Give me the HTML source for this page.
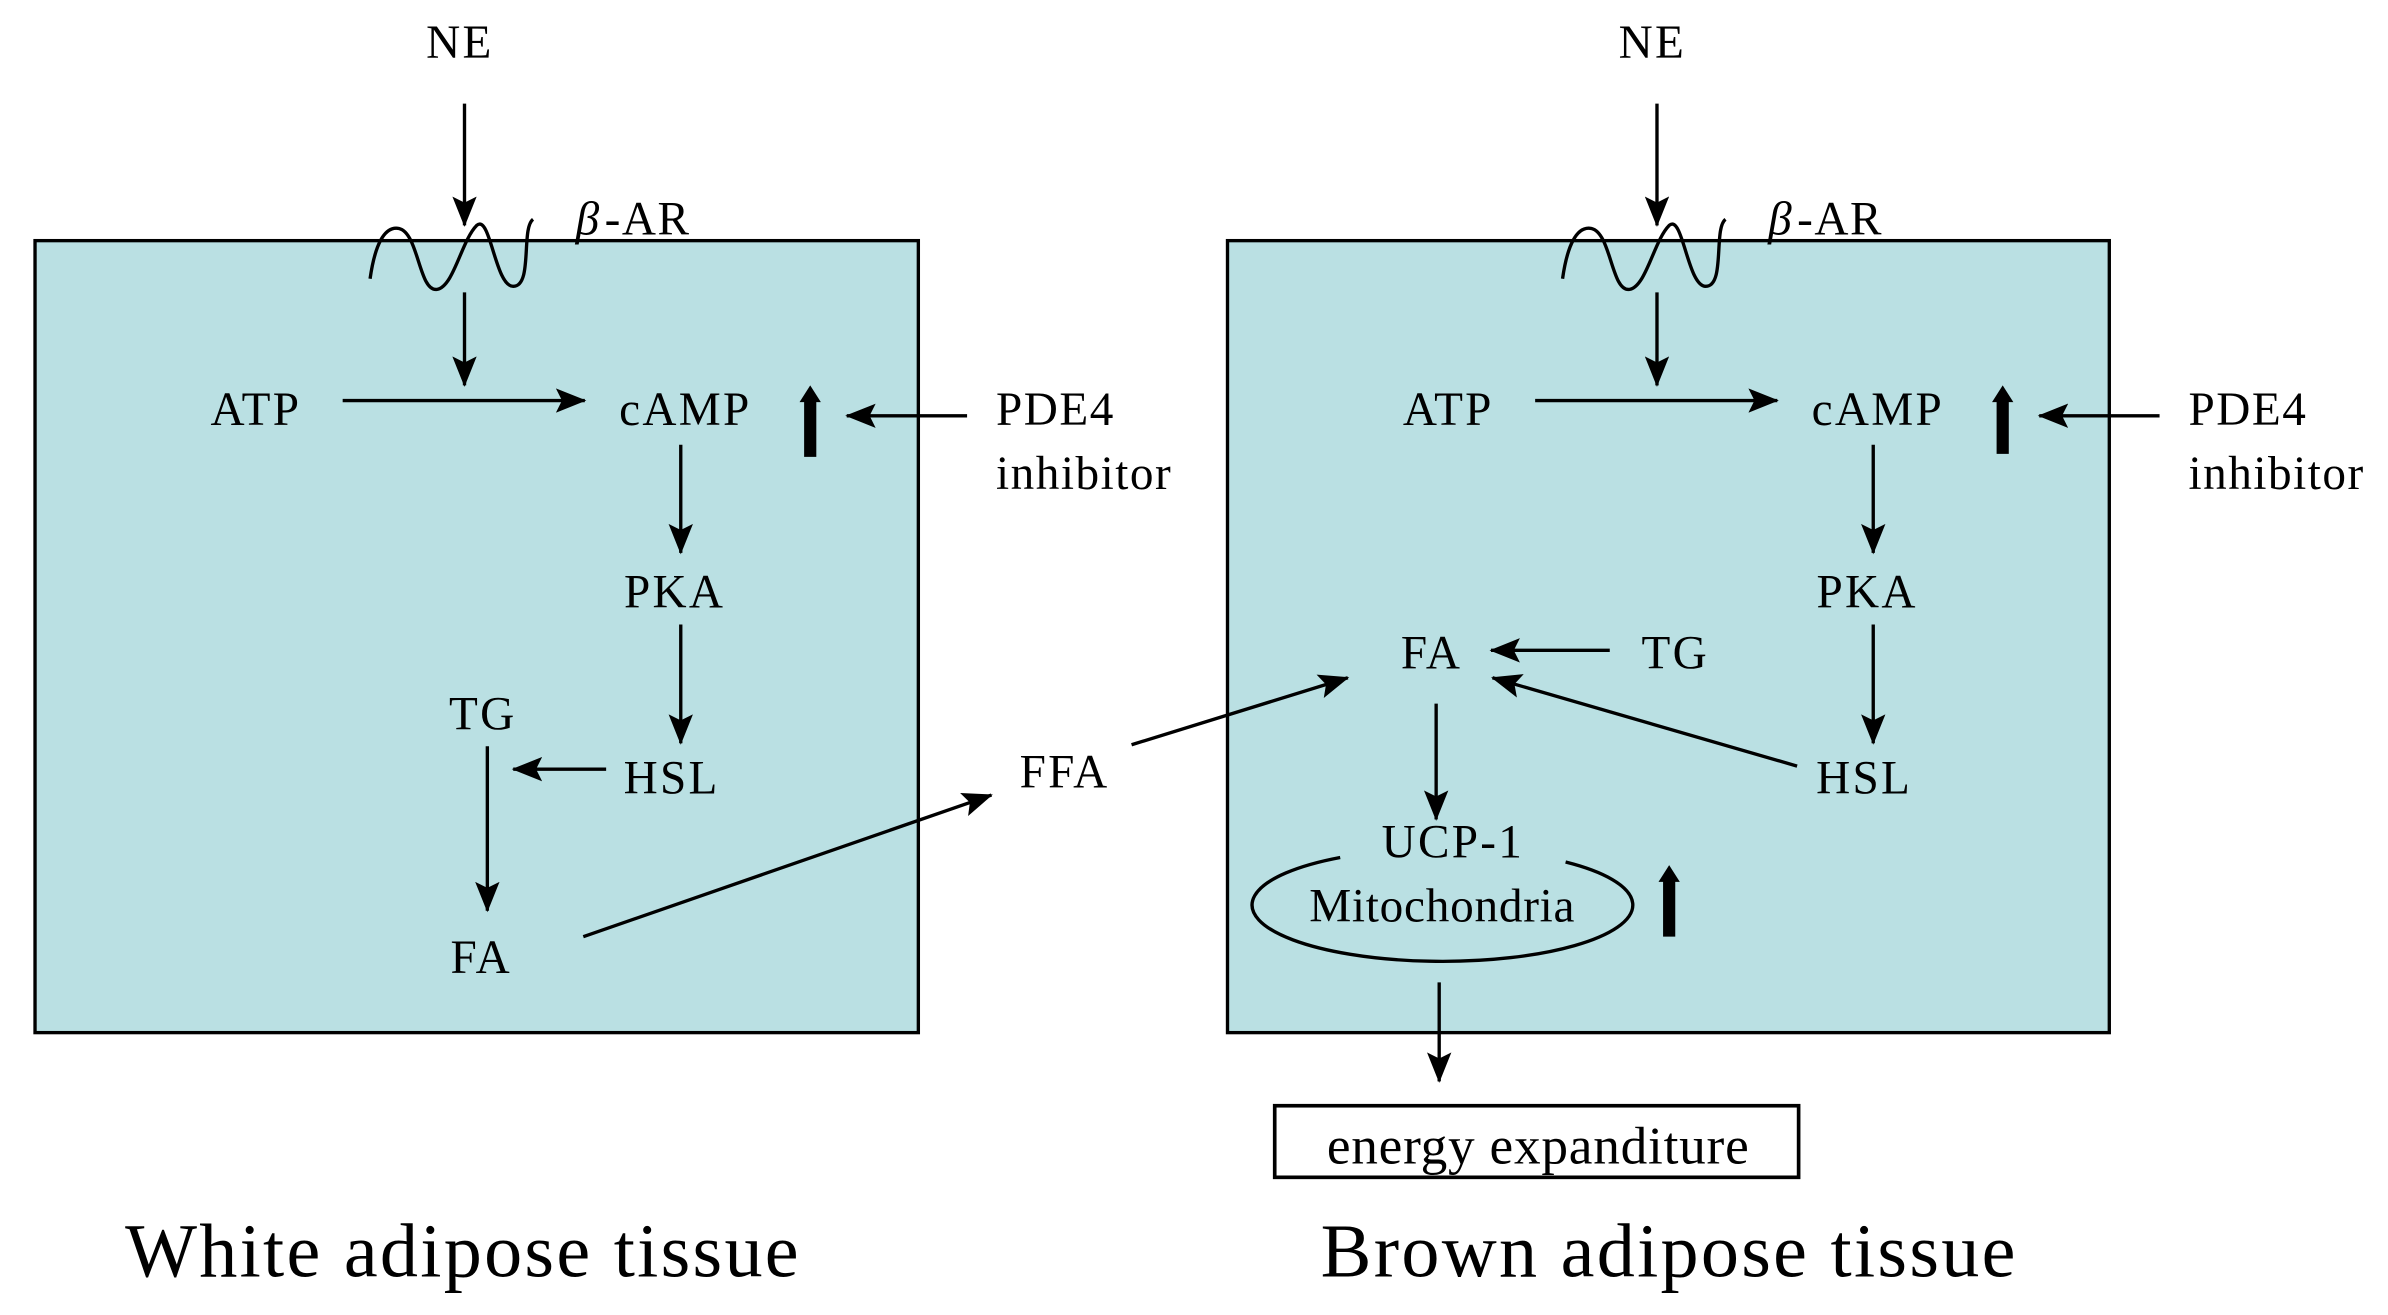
<!DOCTYPE html>
<html><head><meta charset="utf-8"><style>
html,body{margin:0;padding:0;background:#fff;}
svg{display:block;}
text{font-family:"Liberation Serif",serif;fill:#000;}
</style></head><body>
<svg width="2388" height="1315" viewBox="0 0 1568 863.4" preserveAspectRatio="none" xmlns="http://www.w3.org/2000/svg">
<defs>
<marker id="b" markerWidth="20" markerHeight="16" refX="19" refY="8" orient="auto" markerUnits="userSpaceOnUse">
<path d="M0,0 L20,8 L0,16 L4,8 Z" fill="#000"/>
</marker>
</defs>
<g stroke="#000" stroke-width="2.2" fill="none">
<rect x="23" y="158" width="580" height="520" fill="#bae0e3"/>
<rect x="806" y="158" width="579" height="520" fill="#bae0e3"/>
</g>
<g font-size="31" text-anchor="middle" letter-spacing="1.5">
<text x="302" y="38">NE</text>
<text x="1085" y="38">NE</text>
<text x="168" y="279">ATP</text>
<text x="450" y="279">cAMP</text>
<text x="443" y="399">PKA</text>
<text x="441" y="521">HSL</text>
<text x="317" y="479">TG</text>
<text x="316" y="639">FA</text>
<text x="699" y="517">FFA</text>
<text x="951" y="279">ATP</text>
<text x="1233" y="279">cAMP</text>
<text x="1226" y="399">PKA</text>
<text x="1224" y="521">HSL</text>
<text x="940" y="439">FA</text>
<text x="1100" y="439">TG</text>
<text x="954" y="563">UCP-1</text>
<text x="947" y="605" letter-spacing="0.5">Mitochondria</text>
</g>
<text x="1010" y="764" font-size="35" text-anchor="middle" letter-spacing="0.5">energy expanditure</text>
<g font-size="31" letter-spacing="1">
<text x="654" y="279">PDE4</text>
<text x="654" y="321">inhibitor</text>
<text x="1437" y="279">PDE4</text>
<text x="1437" y="321">inhibitor</text>
<text x="378" y="154" font-style="italic">β</text><text x="397" y="154">-AR</text>
<text x="1161" y="154" font-style="italic">β</text><text x="1180" y="154">-AR</text>
</g>
<g font-size="50" text-anchor="middle" letter-spacing="1.5">
<text x="304" y="838">White adipose tissue</text>
<text x="1096" y="838">Brown adipose tissue</text>
</g>
<g stroke="#000" stroke-width="2.2" fill="none" marker-end="url(#b)">
<line x1="305" y1="68" x2="305" y2="148"/>
<line x1="305" y1="192" x2="305" y2="253"/>
<line x1="225" y1="263" x2="384" y2="263"/>
<line x1="635" y1="273" x2="556" y2="273"/>
<line x1="447" y1="292" x2="447" y2="363"/>
<line x1="447" y1="410" x2="447" y2="488"/>
<line x1="398" y1="505" x2="337" y2="505"/>
<line x1="320" y1="490" x2="320" y2="598"/>
<line x1="383" y1="615" x2="651" y2="522"/>
<line x1="743" y1="489" x2="885" y2="445"/>
<line x1="1088" y1="68" x2="1088" y2="148"/>
<line x1="1088" y1="192" x2="1088" y2="253"/>
<line x1="1008" y1="263" x2="1167" y2="263"/>
<line x1="1418" y1="273" x2="1339" y2="273"/>
<line x1="1230" y1="292" x2="1230" y2="363"/>
<line x1="1230" y1="410" x2="1230" y2="488"/>
<line x1="1057" y1="427" x2="979" y2="427"/>
<line x1="1180" y1="503" x2="980" y2="445"/>
<line x1="943" y1="462" x2="943" y2="538"/>
<line x1="945" y1="645" x2="945" y2="710"/>
</g>
<g stroke="#000" stroke-width="2.2" fill="none">
<path d="M243,183 C246,162 252,148 262,150 C275,153 275,192 287,190 C298,188 303,158 313,148 C322,140 325,188 337,188 C350,188 342,150 350,144"/>
<path d="M1026,183 C1029,162 1035,148 1045,150 C1058,153 1058,192 1070,190 C1081,188 1086,158 1096,148 C1105,140 1108,188 1120,188 C1133,188 1125,150 1133,144"/>
<path d="M880,563 A125,37 0 1 0 1028,566"/>
<rect x="837" y="726" width="344" height="47" stroke-width="2.4"/>
</g>
<g fill="#000">
<path d="M532,253 L539,264 L536,264 L536,300 L528,300 L528,264 L525,264 Z"/>
<path d="M1315,253 L1322,264 L1319,264 L1319,298 L1311,298 L1311,264 L1308,264 Z"/>
<path d="M1096,568 L1103,579 L1100,579 L1100,615 L1092,615 L1092,579 L1089,579 Z"/>
</g>
</svg>
</body></html>
